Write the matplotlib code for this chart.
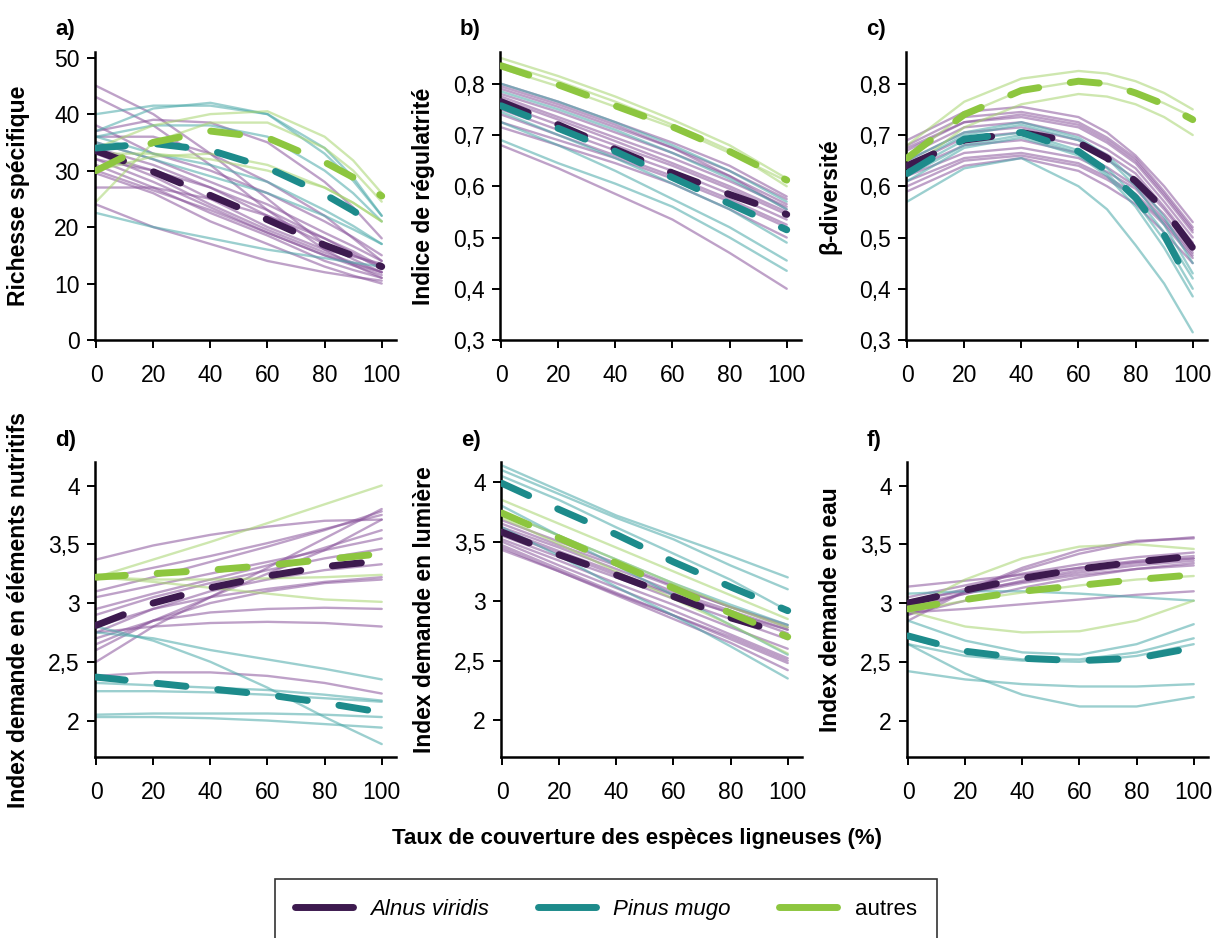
import matplotlib
matplotlib.use("Agg")
import matplotlib.pyplot as plt
from matplotlib.lines import Line2D
from matplotlib.ticker import FuncFormatter

plt.rcParams["font.family"] = ["Liberation Sans", "DejaVu Sans"]

# cover of woody species (%) at which each fitted curve is read
x_pts = [0, 20, 40, 60, 80, 100]
x_pts_a = [0, 20, 40, 60, 80, 90, 100]
x_pts_c = [0, 20, 40, 60, 70, 80, 90, 100]

# ---- a) Richesse spécifique
a_alnus_thin = [
    [45, 40, 33, 25, 17, 14.3, 12], [43, 38, 31, 23, 16, 13.3, 11], [37, 39, 38.5, 35, 28, 23.5, 18],
    [36, 36, 33, 28, 22, 18, 14], [34, 31, 27, 22, 17, 15, 13], [33, 29, 24, 19.5, 15.5, 13.7, 12],
    [32, 28, 23.5, 19, 15, 13.2, 11.5], [31, 27, 22.5, 18.5, 14, 12.4, 11], [30, 26.5, 23, 19, 15, 13.5, 12],
    [29.5, 26, 21, 17, 13, 11.4, 10], [27, 27, 25, 22, 18, 15.7, 13], [24, 20, 17, 14, 12, 11.2, 10.5],
    [35, 32, 28, 24, 19, 16.6, 14], [32, 30, 27, 23, 18, 15.3, 12.5], [33, 30, 25, 20, 16, 14.8, 13.5],
    [38, 33, 30, 26, 21, 18.2, 15],
]
a_pinus_thin = [
    [40, 41.5, 41.5, 40, 34, 28.8, 22], [37, 41, 42, 40, 33, 28.2, 22], [36, 38, 38, 36, 30, 26, 21],
    [36, 33, 31, 28, 23, 20.2, 17], [22.5, 20, 18, 16, 14.5, 13.7, 13], [35, 32, 29, 26, 22, 19.6, 17],
]
a_autres_thin = [
    [34, 38, 40, 40.5, 36, 31.8, 26], [24.5, 35, 38.5, 38.5, 34, 30, 24.5],
    [33, 33, 32, 30, 27, 24.3, 21], [30, 32.5, 33, 31, 27, 24.3, 21],
]
a_alnus_mean = [33.5, 29.8, 25.6, 21.3, 16.8, 14.9, 13]
a_pinus_mean = [34, 34.8, 33.6, 30.5, 25.8, 22.9, 19.5]
a_autres_mean = [30, 35, 37, 35.8, 31.5, 28.8, 25.5]

# ---- b) Indice de régulatrité
b_alnus_thin = [
    [0.80, 0.765, 0.725, 0.685, 0.64, 0.58], [0.79, 0.755, 0.715, 0.675, 0.63, 0.575],
    [0.78, 0.745, 0.705, 0.665, 0.62, 0.565], [0.775, 0.735, 0.695, 0.655, 0.61, 0.56],
    [0.77, 0.73, 0.688, 0.645, 0.60, 0.55], [0.76, 0.72, 0.68, 0.64, 0.595, 0.545],
    [0.75, 0.71, 0.67, 0.63, 0.585, 0.535], [0.74, 0.70, 0.66, 0.62, 0.575, 0.525],
    [0.725, 0.69, 0.655, 0.615, 0.57, 0.52], [0.715, 0.68, 0.645, 0.605, 0.555, 0.50],
    [0.68, 0.635, 0.585, 0.535, 0.47, 0.40], [0.795, 0.76, 0.72, 0.675, 0.62, 0.555],
]
b_pinus_thin = [
    [0.80, 0.765, 0.725, 0.68, 0.63, 0.57], [0.785, 0.75, 0.71, 0.665, 0.615, 0.555],
    [0.745, 0.70, 0.655, 0.605, 0.555, 0.49], [0.725, 0.68, 0.63, 0.575, 0.52, 0.455],
    [0.69, 0.645, 0.605, 0.56, 0.50, 0.435],
]
b_autres_thin = [
    [0.85, 0.815, 0.775, 0.73, 0.68, 0.615], [0.84, 0.805, 0.765, 0.72, 0.67, 0.60],
    [0.83, 0.795, 0.755, 0.715, 0.665, 0.61],
]
b_alnus_mean = [0.765, 0.72, 0.672, 0.626, 0.584, 0.545]
b_pinus_mean = [0.757, 0.713, 0.668, 0.617, 0.566, 0.515]
b_autres_mean = [0.835, 0.798, 0.757, 0.716, 0.668, 0.612]

# ---- c) β-diversité
c_alnus_thin = [
    [0.69, 0.745, 0.755, 0.735, 0.705, 0.66, 0.60, 0.53],
    [0.68, 0.735, 0.745, 0.725, 0.695, 0.655, 0.59, 0.52],
    [0.67, 0.725, 0.735, 0.715, 0.685, 0.645, 0.58, 0.51],
    [0.66, 0.715, 0.725, 0.70, 0.672, 0.635, 0.57, 0.50],
    [0.65, 0.705, 0.715, 0.69, 0.662, 0.625, 0.56, 0.49],
    [0.64, 0.695, 0.705, 0.68, 0.652, 0.615, 0.555, 0.485],
    [0.63, 0.68, 0.69, 0.665, 0.637, 0.60, 0.545, 0.475],
    [0.62, 0.665, 0.675, 0.655, 0.628, 0.595, 0.535, 0.47],
    [0.61, 0.655, 0.665, 0.645, 0.618, 0.585, 0.53, 0.465],
    [0.60, 0.65, 0.66, 0.64, 0.613, 0.58, 0.525, 0.46],
    [0.59, 0.64, 0.655, 0.63, 0.60, 0.565, 0.51, 0.45],
    [0.675, 0.725, 0.74, 0.72, 0.69, 0.65, 0.585, 0.515],
]
c_pinus_thin = [
    [0.57, 0.635, 0.655, 0.60, 0.555, 0.485, 0.41, 0.315],
    [0.63, 0.69, 0.705, 0.67, 0.635, 0.58, 0.51, 0.42],
    [0.64, 0.70, 0.72, 0.69, 0.655, 0.60, 0.525, 0.43],
    [0.62, 0.68, 0.70, 0.665, 0.625, 0.57, 0.495, 0.40],
    [0.61, 0.675, 0.695, 0.66, 0.62, 0.56, 0.48, 0.385],
    [0.65, 0.705, 0.725, 0.695, 0.66, 0.61, 0.54, 0.45],
]
c_autres_thin = [
    [0.68, 0.765, 0.81, 0.825, 0.82, 0.805, 0.782, 0.75],
    [0.655, 0.74, 0.787, 0.805, 0.80, 0.785, 0.762, 0.735],
    [0.63, 0.715, 0.76, 0.78, 0.775, 0.76, 0.735, 0.70],
]
c_alnus_mean = [0.64, 0.69, 0.705, 0.685, 0.655, 0.61, 0.555, 0.48]
c_pinus_mean = [0.625, 0.692, 0.705, 0.668, 0.63, 0.578, 0.505, 0.40]
c_autres_mean = [0.655, 0.74, 0.787, 0.805, 0.80, 0.782, 0.76, 0.73]

# ---- d) Index demande en éléments nutritifs
d_alnus_thin = [
    [3.37, 3.49, 3.58, 3.65, 3.70, 3.71], [3.20, 3.30, 3.40, 3.51, 3.63, 3.75],
    [3.10, 3.22, 3.35, 3.48, 3.62, 3.78], [2.50, 2.80, 3.05, 3.30, 3.55, 3.80],
    [2.60, 2.85, 3.05, 3.25, 3.45, 3.71], [2.95, 3.08, 3.20, 3.32, 3.47, 3.62],
    [2.90, 3.05, 3.17, 3.28, 3.38, 3.46], [2.75, 2.95, 3.10, 3.20, 3.28, 3.33],
    [2.65, 2.85, 3.00, 3.10, 3.17, 3.20], [2.80, 2.95, 3.05, 3.12, 3.18, 3.22],
    [2.70, 2.85, 2.92, 2.95, 2.96, 2.95], [2.75, 2.80, 2.83, 2.84, 2.83, 2.80],
    [2.38, 2.41, 2.41, 2.38, 2.32, 2.23], [3.05, 3.15, 3.25, 3.35, 3.45, 3.55],
]
d_pinus_thin = [
    [2.80, 2.68, 2.50, 2.28, 2.03, 1.80], [2.75, 2.70, 2.60, 2.52, 2.44, 2.35],
    [2.32, 2.30, 2.28, 2.26, 2.22, 2.17], [2.25, 2.25, 2.24, 2.22, 2.19, 2.16],
    [2.05, 2.06, 2.06, 2.06, 2.05, 2.03], [2.03, 2.03, 2.02, 2.00, 1.97, 1.94],
]
d_autres_thin = [
    [3.22, 3.37, 3.52, 3.68, 3.84, 4.00], [3.22, 3.18, 3.13, 3.08, 3.03, 3.01],
    [3.22, 3.20, 3.20, 3.21, 3.22, 3.24],
]
d_alnus_mean = [2.81, 3.00, 3.13, 3.23, 3.31, 3.36]
d_pinus_mean = [2.37, 2.32, 2.27, 2.22, 2.15, 2.07]
d_autres_mean = [3.22, 3.25, 3.28, 3.32, 3.37, 3.42]

# ---- e) Index demande en lumière
e_alnus_thin = [
    [3.68, 3.50, 3.32, 3.13, 2.95, 2.80], [3.65, 3.47, 3.30, 3.12, 2.95, 2.78],
    [3.62, 3.45, 3.27, 3.08, 2.92, 2.76], [3.60, 3.42, 3.24, 3.06, 2.90, 2.73],
    [3.55, 3.37, 3.20, 3.02, 2.85, 2.68], [3.52, 3.34, 3.15, 2.97, 2.78, 2.60],
    [3.50, 3.30, 3.11, 2.92, 2.72, 2.52], [3.47, 3.27, 3.07, 2.88, 2.68, 2.48],
    [3.45, 3.25, 3.05, 2.85, 2.65, 2.42], [3.43, 3.25, 3.06, 2.88, 2.70, 2.50],
    [3.58, 3.40, 3.22, 3.05, 2.90, 2.76],
]
e_pinus_thin = [
    [4.14, 3.93, 3.72, 3.55, 3.38, 3.20], [4.10, 3.90, 3.70, 3.52, 3.30, 3.10],
    [4.05, 3.85, 3.62, 3.40, 3.18, 2.92], [3.80, 3.55, 3.30, 3.05, 2.80, 2.55],
    [3.62, 3.38, 3.12, 2.88, 2.62, 2.35], [3.75, 3.55, 3.35, 3.15, 2.97, 2.80],
]
e_autres_thin = [
    [3.85, 3.65, 3.45, 3.25, 3.05, 2.85], [3.70, 3.48, 3.25, 3.02, 2.80, 2.56],
    [3.75, 3.55, 3.35, 3.15, 2.95, 2.78],
]
e_alnus_mean = [3.58, 3.39, 3.22, 3.04, 2.86, 2.72]
e_pinus_mean = [3.99, 3.77, 3.56, 3.33, 3.12, 2.92]
e_autres_mean = [3.74, 3.53, 3.32, 3.11, 2.90, 2.70]

# ---- f) Index demande en eau
f_alnus_thin = [
    [2.85, 3.10, 3.30, 3.45, 3.53, 3.55], [2.90, 3.10, 3.28, 3.42, 3.52, 3.56],
    [3.14, 3.19, 3.24, 3.30, 3.35, 3.38], [3.05, 3.15, 3.25, 3.33, 3.39, 3.43],
    [3.00, 3.12, 3.22, 3.30, 3.36, 3.40], [2.95, 3.08, 3.19, 3.28, 3.34, 3.38],
    [3.02, 3.10, 3.18, 3.26, 3.32, 3.36], [2.90, 3.02, 3.13, 3.22, 3.29, 3.34],
    [2.92, 2.95, 2.99, 3.03, 3.07, 3.10], [2.98, 3.08, 3.17, 3.24, 3.29, 3.32],
]
f_pinus_thin = [
    [3.08, 3.10, 3.10, 3.08, 3.05, 3.02], [2.85, 2.68, 2.58, 2.56, 2.65, 2.82],
    [2.70, 2.58, 2.52, 2.52, 2.58, 2.70], [2.65, 2.55, 2.51, 2.50, 2.55, 2.65],
    [2.42, 2.35, 2.31, 2.29, 2.29, 2.31], [2.65, 2.40, 2.22, 2.12, 2.12, 2.20],
]
f_autres_thin = [
    [2.95, 3.20, 3.38, 3.48, 3.50, 3.46], [2.93, 2.80, 2.75, 2.76, 2.85, 3.02],
    [2.93, 3.02, 3.09, 3.15, 3.20, 3.23],
]
f_alnus_mean = [3.00, 3.11, 3.21, 3.29, 3.35, 3.40]
f_pinus_mean = [2.72, 2.59, 2.53, 2.51, 2.53, 2.62]
f_autres_mean = [2.95, 3.03, 3.10, 3.15, 3.20, 3.24]

panel_letters = ["a)", "b)", "c)", "d)", "e)", "f)"]
panel_ylabels = ["Richesse spécifique", "Indice de régulatrité", "β-diversité",
                 "Index demande en éléments nutritifs", "Index demande en lumière",
                 "Index demande en eau"]
species = ["Alnus viridis", "Pinus mugo", "autres"]

col_mean = ["#3d1a4f", "#1d8b8b", "#8dc63f"]
col_thin = ["#8a559c", "#4aa8a8", "#a6d46e"]

panel_x = [x_pts_a, x_pts, x_pts_c, x_pts, x_pts, x_pts]
thin_sets = [
    [a_alnus_thin, a_pinus_thin, a_autres_thin],
    [b_alnus_thin, b_pinus_thin, b_autres_thin],
    [c_alnus_thin, c_pinus_thin, c_autres_thin],
    [d_alnus_thin, d_pinus_thin, d_autres_thin],
    [e_alnus_thin, e_pinus_thin, e_autres_thin],
    [f_alnus_thin, f_pinus_thin, f_autres_thin],
]
mean_sets = [
    [a_alnus_mean, a_pinus_mean, a_autres_mean],
    [b_alnus_mean, b_pinus_mean, b_autres_mean],
    [c_alnus_mean, c_pinus_mean, c_autres_mean],
    [d_alnus_mean, d_pinus_mean, d_autres_mean],
    [e_alnus_mean, e_pinus_mean, e_autres_mean],
    [f_alnus_mean, f_pinus_mean, f_autres_mean],
]
ylims = [(0, 51), (0.3, 0.862), (0.3, 0.862), (1.69, 4.2), (1.69, 4.17), (1.69, 4.2)]
yticks = [[0, 10, 20, 30, 40, 50], [0.3, 0.4, 0.5, 0.6, 0.7, 0.8], [0.3, 0.4, 0.5, 0.6, 0.7, 0.8],
          [2, 2.5, 3, 3.5, 4], [2, 2.5, 3, 3.5, 4], [2, 2.5, 3, 3.5, 4]]

W, H = 1214, 938
fig = plt.figure(figsize=(W / 100, H / 100), dpi=100)

# axes boxes in pixels: left, top, bottom
boxes = [(95, 52, 340), (500, 52, 340), (906, 52, 340),
         (95, 462, 757), (501, 462, 757), (907, 462, 757)]
ax_w = 301

comma = FuncFormatter(lambda v, p: f"{v:g}".replace(".", ","))

for i in range(6):
    left, top, bottom = boxes[i]
    ax = fig.add_axes([left / W, 1 - bottom / H, ax_w / W, (bottom - top) / H])
    xs = panel_x[i]

    for k in range(3):
        for ys in thin_sets[i][k]:
            ax.plot(xs, ys, color=col_thin[k], lw=1.7, alpha=0.55,
                    solid_capstyle="round", solid_joinstyle="round", zorder=2)
    for k in range(3):
        ax.plot(xs, mean_sets[i][k], color=col_mean[k], lw=5,
                dashes=(4.2, 4.6), dash_capstyle="round", zorder=3)

    ax.set_xlim(-0.4, 105)
    ax.set_ylim(*ylims[i])
    ax.set_xticks([0, 20, 40, 60, 80, 100])
    ax.set_yticks(yticks[i])
    ax.yaxis.set_major_formatter(comma)
    ax.tick_params(labelsize=16.5, length=6, width=1.4, color="black")
    ax.tick_params(axis="x", pad=11)
    ax.tick_params(axis="y", pad=5)
    for s in ["top", "right"]:
        ax.spines[s].set_visible(False)
    for s in ["left", "bottom"]:
        ax.spines[s].set_linewidth(1.8)
    ax.set_ylabel(panel_ylabels[i], fontsize=16.5, fontweight="bold")
    ax.yaxis.set_label_coords(-0.215, 0.5)

    fig.text((left - 40) / W, 1 - (top - 22) / H, panel_letters[i],
             fontsize=16, fontweight="bold", ha="left", va="center")

fig.text(637 / W, 1 - 838 / H, "Taux de couverture des espèces ligneuses (%)",
         fontsize=16, fontweight="bold", ha="center", va="center")

handles = [Line2D([], [], color=c, lw=5, solid_capstyle="round") for c in col_mean]
leg = fig.legend(handles, species, loc="upper left", ncol=3, mode="expand",
                 bbox_to_anchor=(275 / W, 1 - 880 / H, 662 / W, 0.001),
                 borderaxespad=0, fontsize=16, frameon=True, fancybox=False,
                 edgecolor="black", handlelength=2.6, borderpad=0.9, columnspacing=2.0)
leg.get_frame().set_linewidth(1.2)
for t in leg.get_texts()[:2]:
    t.set_style("italic")

fig.savefig("out.png", dpi=100)
